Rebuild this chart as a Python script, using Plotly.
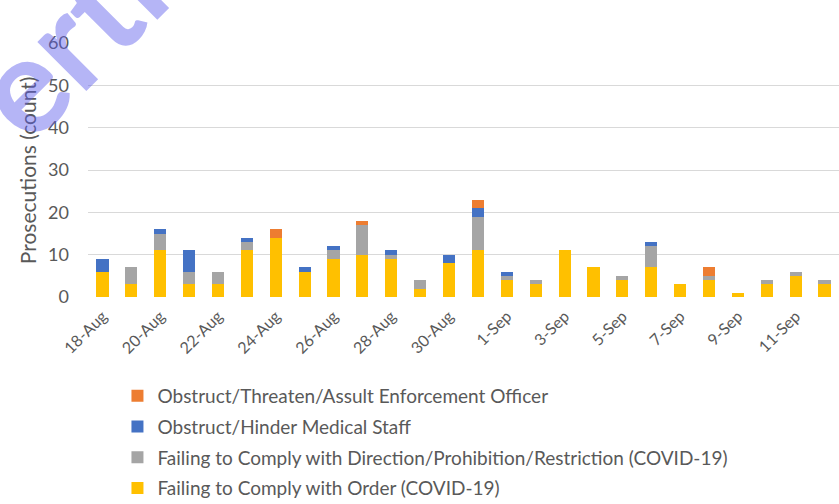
import plotly.graph_objects as go

dates = ["18-Aug", "19-Aug", "20-Aug", "21-Aug", "22-Aug", "23-Aug", "24-Aug",
         "25-Aug", "26-Aug", "27-Aug", "28-Aug", "29-Aug", "30-Aug", "31-Aug",
         "1-Sep", "2-Sep", "3-Sep", "4-Sep", "5-Sep", "6-Sep", "7-Sep",
         "8-Sep", "9-Sep", "10-Sep", "11-Sep", "12-Sep"]

order = [6, 3, 11, 3, 3, 11, 14, 6, 9, 10, 9, 2, 8, 11,
         4, 3, 11, 7, 4, 7, 3, 4, 1, 3, 5, 3]
direction = [0, 4, 4, 3, 3, 2, 0, 0, 2, 7, 1, 2, 0, 8,
             1, 1, 0, 0, 1, 5, 0, 1, 0, 1, 1, 1]
medical = [3, 0, 1, 5, 0, 1, 0, 1, 1, 0, 1, 0, 2, 2,
           1, 0, 0, 0, 0, 1, 0, 0, 0, 0, 0, 0]
officer = [0, 0, 0, 0, 0, 0, 2, 0, 0, 1, 0, 0, 0, 2,
           0, 0, 0, 0, 0, 0, 0, 2, 0, 0, 0, 0]

series = [
    ("Failing to Comply with Order (COVID-19)", order, "#FFC000"),
    ("Failing to Comply with Direction/Prohibition/Restriction (COVID-19)", direction, "#A5A5A5"),
    ("Obstruct/Hinder Medical Staff", medical, "#4472C4"),
    ("Obstruct/Threaten/Assult Enforcement Officer", officer, "#ED7D31"),
]

fig = go.Figure()
for i, (name, vals, col) in enumerate(series):
    fig.add_trace(go.Bar(x=dates, y=vals, name=name, marker_color=col,
                         marker_line_width=0, legendgroup=name,
                         legendrank=len(series) - i))

grey = "#595959"
fig.update_layout(
    width=839, height=504,
    barmode="stack", bargap=0.58,
    plot_bgcolor="white", paper_bgcolor="white",
    margin=dict(l=88, r=0, t=43, b=207, autoexpand=False),
    font=dict(family="Lato", color=grey),
    showlegend=True,
    legend=dict(
        traceorder="grouped", tracegroupgap=3,
        xref="container", yref="container", x=0.14, y=0.252,
        xanchor="left", yanchor="top",
        font=dict(size=19, color=grey),
    ),
)
fig.update_xaxes(
    type="category", range=[-0.5, 25.5],
    tickvals=dates[::2], tickangle=-45,
    tickfont=dict(size=16, color=grey), ticklabelstandoff=6,
    showgrid=False, showline=False,
)
fig.update_yaxes(
    range=[0, 60], dtick=10,
    gridcolor="#D9D9D9", gridwidth=1, zeroline=False,
    tickfont=dict(size=18, color=grey), ticklabelstandoff=18,
)

# y axis title as an annotation (axis title misplaces with fixed margins)
fig.add_annotation(
    text="Prosecutions (count)", xref="paper", yref="paper", x=-0.081, y=0.5,
    xanchor="center", yanchor="middle",
    textangle=-90, showarrow=False, font=dict(size=21, color=grey),
)

# watermark fragment across the top-left corner
fig.add_annotation(
    text="<b>erth</b>", xref="paper", yref="paper", x=-0.01, y=1.08,
    xanchor="center", yanchor="middle", showarrow=False, textangle=-45,
    font=dict(family="Lato", size=135, color="rgba(90,90,235,0.45)"),
)

# drop the default page margin so the figure sits at the window's corner
fig.write_html("out.html", config={"displayModeBar": False},
               post_script="document.body.style.margin='0px';")
